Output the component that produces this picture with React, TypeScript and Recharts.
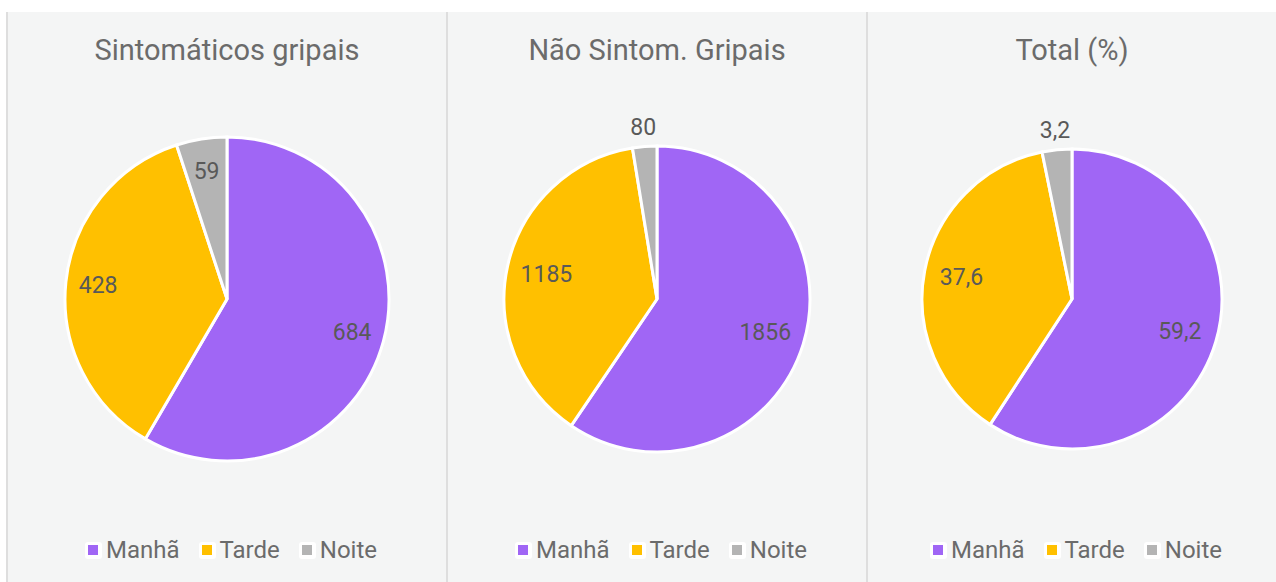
import React from "react";
import { PieChart, Pie, Cell, Legend } from "recharts";

const categories = ["Manhã", "Tarde", "Noite"];
const colors = ["#A066F5", "#FFC000", "#B4B4B4"];
const titles = ["Sintomáticos gripais", "Não Sintom. Gripais", "Total (%)"];
const sintomaticos = [684, 428, 59];
const naoSintomaticos = [1856, 1185, 80];
const totalPct = [59.2, 37.6, 3.2];

const FONT = "Roboto, 'Noto Sans', sans-serif";
const RADIAN = Math.PI / 180;

const fmt = (v: number) => String(v).replace(".", ",");

type PanelSpec = {
  title: string;
  values: number[];
  left: number;
  width: number;
  cx: number;
  radius: number;
  labelFactor: number;
};

const makeLabel = (labelFactor: number) => (props: any) => {
  const { cx, cy, midAngle, outerRadius, percent, value } = props;
  const r = percent < 0.04 ? outerRadius + 19 : outerRadius * labelFactor;
  const x = cx + r * Math.cos(-midAngle * RADIAN);
  const y = cy + r * Math.sin(-midAngle * RADIAN);
  return (
    <text
      x={x}
      y={y}
      textAnchor="middle"
      dominantBaseline="central"
      fill="#595959"
      fontSize={23}
      fontFamily={FONT}
    >
      {fmt(value)}
    </text>
  );
};

const LegendContent = () => {
  return (
    <div
      style={{
        display: "flex",
        justifyContent: "center",
        alignItems: "center",
        fontFamily: FONT,
        fontSize: 24,
        color: "#6b6b6b",
        gap: 19,
      }}
    >
      {categories.map((c, i) => (
        <div key={c} style={{ display: "flex", alignItems: "center" }}>
          <div
            style={{
              width: 17,
              height: 17,
              background: "#ffffff",
              borderRadius: 3,
              display: "flex",
              alignItems: "center",
              justifyContent: "center",
              marginRight: 4,
            }}
          >
            <div style={{ width: 10, height: 10, background: colors[i] }} />
          </div>
          <span>{c}</span>
        </div>
      ))}
    </div>
  );
};

const CHART_H = 570;
const CY = 287;

const panels: PanelSpec[] = [
  { title: titles[0], values: sintomaticos, left: 8, width: 438, cx: 219, radius: 162, labelFactor: 0.8 },
  { title: titles[1], values: naoSintomaticos, left: 448, width: 418, cx: 209, radius: 153, labelFactor: 0.74 },
  { title: titles[2], values: totalPct, left: 868, width: 408, cx: 204, radius: 150, labelFactor: 0.75 },
];

export default function App() {
  return (
    <div
      style={{
        position: "absolute",
        left: 0,
        top: 0,
        width: 1276,
        height: 582,
        background: "#ffffff",
        overflow: "hidden",
      }}
    >
      <div
        style={{
          position: "absolute",
          left: 6,
          top: 12,
          width: 1270,
          height: 570,
          background: "#f4f5f5",
        }}
      />
      {[6, 446, 866].map((x) => (
        <div
          key={x}
          style={{
            position: "absolute",
            left: x,
            top: 12,
            width: 2,
            height: 570,
            background: "#dedede",
          }}
        />
      ))}
      {panels.map((p, idx) => {
        const data = categories.map((c, i) => ({ name: c, value: p.values[i] }));
        return (
          <div
            key={idx}
            style={{ position: "absolute", left: p.left, top: 12, width: p.width, height: CHART_H }}
          >
            <div
              style={{
                position: "absolute",
                left: 0,
                top: 22,
                width: p.width,
                textAlign: "center",
                fontFamily: FONT,
                fontSize: 29,
                color: "#6b6b6b",
                lineHeight: "32px",
              }}
            >
              {p.title}
            </div>
            <PieChart
              width={p.width}
              height={CHART_H}
              margin={{ top: 0, right: 0, bottom: 0, left: 0 }}
            >
              <Pie
                data={data}
                dataKey="value"
                nameKey="name"
                cx={p.cx}
                cy={CY}
                outerRadius={p.radius}
                startAngle={90}
                endAngle={-270}
                stroke="#ffffff"
                strokeWidth={3}
                label={makeLabel(p.labelFactor)}
                labelLine={false}
                isAnimationActive={false}
              >
                {data.map((d, i) => (
                  <Cell key={d.name} fill={colors[i]} />
                ))}
              </Pie>
              <Legend
                content={<LegendContent />}
                wrapperStyle={{ position: "absolute", left: 4, top: 524, width: p.width, height: 28 }}
              />
            </PieChart>
          </div>
        );
      })}
    </div>
  );
}
